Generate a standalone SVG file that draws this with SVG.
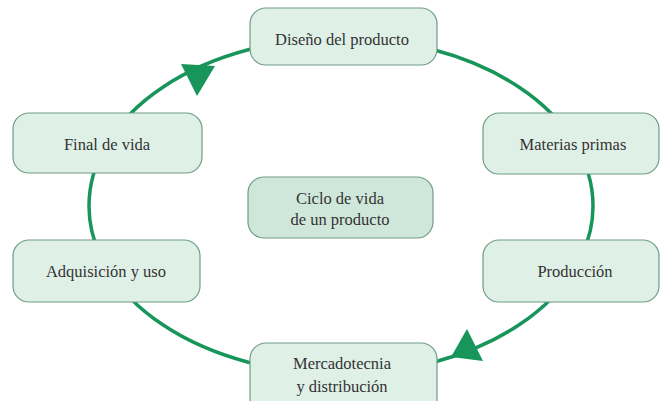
<svg xmlns="http://www.w3.org/2000/svg" width="661" height="401" viewBox="0 0 661 401">
<style>
.box{fill:#dff0e7;stroke:#6f9c88;stroke-width:1.2}
.center{fill:#cfe7db;stroke:#6f9c88;stroke-width:1.2}
.lbl{font-family:"Liberation Serif",serif;font-size:16.5px;fill:#333;text-anchor:middle}
.conn{fill:none;stroke:#17955a;stroke-width:3.5}
.head{fill:#17955a}
</style>
<rect width="661" height="401" fill="#fff"/>
<g id="connectors">
<ellipse class="conn" cx="341" cy="206" rx="252" ry="168"/>
<polygon class="head" points="181,64 215,66 197,96"/>
<polygon class="head" points="467,329 483,361 451,357"/>
</g>
<g id="diseno">
<rect class="box" x="250" y="8" width="187" height="57" rx="16"/>
<text class="lbl" x="342" y="45">Diseño del producto</text>
</g>
<g id="materias">
<rect class="box" x="483" y="113" width="176" height="61" rx="16"/>
<text class="lbl" x="573" y="150">Materias primas</text>
</g>
<g id="produccion">
<rect class="box" x="483" y="240" width="176" height="62" rx="16"/>
<text class="lbl" x="575" y="277">Producción</text>
</g>
<g id="mercadotecnia">
<rect class="box" x="250" y="343" width="187" height="72" rx="16"/>
<text class="lbl" x="342" y="369">Mercadotecnia</text>
<text class="lbl" x="342" y="392">y distribución</text>
</g>
<g id="adquisicion">
<rect class="box" x="13" y="240" width="187" height="62" rx="16"/>
<text class="lbl" x="106" y="277">Adquisición y uso</text>
</g>
<g id="final">
<rect class="box" x="13" y="113" width="189" height="60" rx="16"/>
<text class="lbl" x="107" y="150">Final de vida</text>
</g>
<g id="ciclo">
<rect class="center" x="248" y="177" width="185" height="61" rx="16"/>
<text class="lbl" x="340" y="204">Ciclo de vida</text>
<text class="lbl" x="340" y="225">de un producto</text>
</g>
</svg>
